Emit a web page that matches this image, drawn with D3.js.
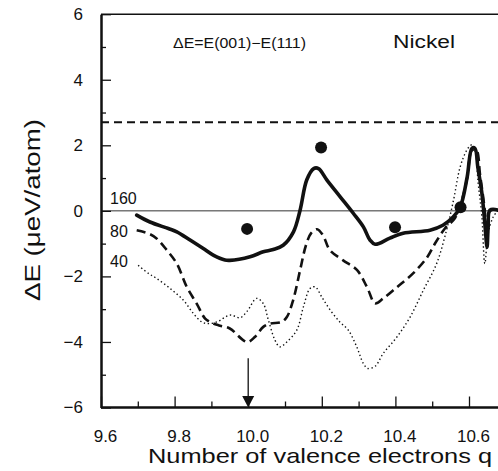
<!DOCTYPE html>
<html>
<head>
<meta charset="utf-8">
<script src="https://cdn.jsdelivr.net/npm/d3@7"></script>
<style>
  body { margin: 0; background: #fff; }
  text { font-family: "Liberation Sans", Arial, sans-serif; fill: #111; }
</style>
</head>
<body>
<div id="chart"></div>
<script>
// curve N=160 (solid)
var q160 = [9.697, 9.733, 9.783, 9.806, 9.842, 9.878, 9.905, 9.937, 9.95, 10.005, 10.041, 10.068, 10.095, 10.123, 10.141, 10.159, 10.178, 10.191, 10.214, 10.25, 10.286, 10.313, 10.331, 10.345, 10.385, 10.421, 10.494, 10.529, 10.557, 10.576, 10.595, 10.608, 10.616, 10.624, 10.635, 10.643, 10.649, 10.652, 10.657, 10.68];
var e160 = [-0.13, -0.34, -0.54, -0.64, -0.89, -1.15, -1.35, -1.5, -1.51, -1.4, -1.25, -1.18, -1.05, -0.64, 0.02, 0.94, 1.29, 1.29, 0.94, 0.43, -0.08, -0.49, -0.89, -1.02, -0.83, -0.68, -0.59, -0.44, -0.19, 0.11, 1.03, 1.91, 1.91, 1.33, 0.54, -0.38, -1.11, -0.5, 0.02, 0.02];

// curve N=80 (dashed)
var q80 = [9.697, 9.729, 9.751, 9.779, 9.806, 9.833, 9.86, 9.883, 9.896, 9.919, 9.95, 9.987, 10.0, 10.018, 10.041, 10.059, 10.091, 10.105, 10.122, 10.141, 10.157, 10.171, 10.187, 10.203, 10.222, 10.258, 10.296, 10.323, 10.345, 10.367, 10.404, 10.448, 10.486, 10.508, 10.535, 10.562, 10.58, 10.595, 10.608, 10.62, 10.63, 10.643, 10.649, 10.657, 10.68];
var e80 = [-0.59, -0.69, -0.84, -1.2, -1.61, -2.32, -2.83, -3.29, -3.39, -3.49, -3.59, -3.95, -4.0, -3.85, -3.54, -3.44, -3.39, -3.24, -2.73, -1.81, -1.05, -0.68, -0.56, -0.74, -1.2, -1.51, -1.81, -2.33, -2.82, -2.67, -2.33, -1.91, -1.42, -0.99, -0.53, -0.22, 0.3, 1.0, 1.85, 1.85, 1.1, 0.0, -0.9, 0.0, 0.0];

// curve N=40 (dotted)
var q40 = [9.701, 9.729, 9.751, 9.788, 9.824, 9.851, 9.874, 9.892, 9.915, 9.951, 9.978, 9.996, 10.023, 10.041, 10.055, 10.073, 10.086, 10.105, 10.132, 10.15, 10.168, 10.182, 10.2, 10.223, 10.249, 10.272, 10.295, 10.313, 10.325, 10.345, 10.367, 10.404, 10.44, 10.476, 10.512, 10.539, 10.558, 10.576, 10.594, 10.607, 10.616, 10.625, 10.635, 10.643, 10.652, 10.666, 10.68];
var e40 = [-1.66, -1.91, -2.06, -2.37, -2.73, -3.13, -3.39, -3.44, -3.39, -3.18, -3.26, -3.08, -2.67, -2.83, -3.34, -3.95, -4.15, -4.0, -3.64, -2.93, -2.37, -2.32, -2.63, -3.03, -3.39, -3.64, -4.15, -4.66, -4.81, -4.74, -4.35, -3.85, -3.24, -2.42, -1.61, -0.59, 0.33, 1.34, 1.85, 2.01, 1.85, 0.84, -0.18, -1.61, -0.69, -0.18, 0.02];

// measured points
var dotQ = [9.997, 10.198, 10.399, 10.577];
var dotE = [-0.55, 1.93, -0.5, 0.11];

var refLevel = 2.7;      // horizontal dashed line
var arrowQ = 10.0;       // arrow position

var yMajor = [-6, -4, -2, 0, 2, 4, 6];
var yMinor = [-5, -3, -1, 1, 3, 5];
var xMajor = [9.6, 9.8, 10.0, 10.2, 10.4, 10.6];
var xMinor = [9.7, 9.9, 10.1, 10.3, 10.5];

var curveLabels = ["160", "80", "40"];
var curveLabelE = [0.2, -0.8, -1.7];

var W = 498, H = 471;
var x = d3.scaleLinear().domain([9.6, 10.7]).range([101, 101 + 1.1 * 368]);
var y = d3.scaleLinear().domain([-6, 6]).range([407.5, 14.2]);

var svg = d3.select("#chart").append("svg")
    .attr("width", W).attr("height", H);

var zip = function(qs, es) {
  return qs.map(function(q, i) { return [q, es[i]]; });
};

// frame: top border and zero line
svg.append("line").attr("x1", x(9.6)).attr("x2", W + 5)
    .attr("y1", y(6)).attr("y2", y(6))
    .attr("stroke", "#111").attr("stroke-width", 1.6);
svg.append("line").attr("x1", x(9.6)).attr("x2", W + 5)
    .attr("y1", y(0)).attr("y2", y(0))
    .attr("stroke", "#333").attr("stroke-width", 1);

// left axis
var gy = svg.append("g").attr("transform", "translate(" + x(9.6) + ",0)");
gy.call(d3.axisLeft(y).tickValues(yMajor).tickSizeInner(-10).tickSizeOuter(0)
    .tickPadding(18).tickFormat(d3.format("d")));
gy.append("g").call(d3.axisLeft(y).tickValues(yMinor).tickSizeInner(-5)
    .tickSizeOuter(0).tickFormat(""));
gy.selectAll(".domain").attr("stroke", "#111").attr("stroke-width", 2);
gy.selectAll(".tick line").attr("stroke", "#111").attr("stroke-width", 1.3);
gy.selectAll(".tick text").attr("font-size", 17)
    .style("font-family", "Liberation Sans, Arial, sans-serif").attr("fill", "#111");

// bottom axis
var gx = svg.append("g").attr("transform", "translate(0," + y(-6) + ")");
gx.call(d3.axisBottom(x).tickValues(xMajor).tickSizeInner(-11).tickSizeOuter(0)
    .tickPadding(22).tickFormat(d3.format(".1f")));
gx.append("g").call(d3.axisBottom(x).tickValues(xMinor).tickSizeInner(-6)
    .tickSizeOuter(0).tickFormat(""));
gx.selectAll(".domain").attr("stroke", "#111").attr("stroke-width", 2)
    .attr("d", "M" + x(9.6) + ",0H" + (W + 5));
gx.selectAll(".tick line").attr("stroke", "#111").attr("stroke-width", 1.3);
gx.selectAll(".tick text").attr("font-size", 17).attr("dx", 4)
    .style("font-family", "Liberation Sans, Arial, sans-serif").attr("fill", "#111");

// horizontal reference line
svg.append("line").attr("x1", x(9.6)).attr("x2", W + 5)
    .attr("y1", y(refLevel)).attr("y2", y(refLevel))
    .attr("stroke", "#111").attr("stroke-width", 2)
    .attr("stroke-dasharray", "8,5");

// curves
var line = d3.line()
    .x(function(d) { return x(d[0]); })
    .y(function(d) { return y(d[1]); })
    .curve(d3.curveCatmullRom.alpha(0.5));

svg.append("path").datum(zip(q40, e40)).attr("d", line)
    .attr("fill", "none").attr("stroke", "#111").attr("stroke-width", 1.4)
    .attr("stroke-dasharray", "1.4,2.6");
svg.append("path").datum(zip(q80, e80)).attr("d", line)
    .attr("fill", "none").attr("stroke", "#111").attr("stroke-width", 2.6)
    .attr("stroke-dasharray", "9,5");
svg.append("path").datum(zip(q160, e160)).attr("d", line)
    .attr("fill", "none").attr("stroke", "#111").attr("stroke-width", 3.6)
    .attr("stroke-linejoin", "round").attr("stroke-linecap", "round");

// data points
svg.selectAll("circle.pt").data(zip(dotQ, dotE)).enter().append("circle")
    .attr("class", "pt")
    .attr("cx", function(d) { return x(d[0]); })
    .attr("cy", function(d) { return y(d[1]); })
    .attr("r", 6).attr("fill", "#111");

// arrow at q = 10.0
svg.append("line").attr("x1", x(arrowQ)).attr("x2", x(arrowQ))
    .attr("y1", y(-4.5)).attr("y2", y(-5.7))
    .attr("stroke", "#111").attr("stroke-width", 1.3);
svg.append("path")
    .attr("d", "M" + (x(arrowQ) - 6) + "," + y(-5.65) + "L" + (x(arrowQ) + 6) + "," + y(-5.65) +
        "L" + x(arrowQ) + "," + y(-6) + "Z")
    .attr("fill", "#111");

// curve labels
svg.selectAll("text.clab").data(curveLabels).enter().append("text")
    .attr("class", "clab")
    .attr("x", 110)
    .attr("y", function(d, i) { return y(curveLabelE[i]); })
    .attr("font-size", 16)
    .text(function(d) { return d; });

// titles
svg.append("text").attr("x", 173).attr("y", 48).attr("font-size", 14)
    .attr("textLength", 133).attr("lengthAdjust", "spacingAndGlyphs")
    .text("ΔE=E(001)−E(111)");
svg.append("text").attr("x", 393).attr("y", 48).attr("font-size", 18)
    .attr("textLength", 62).attr("lengthAdjust", "spacingAndGlyphs")
    .text("Nickel");

svg.append("text").attr("x", 148).attr("y", 463).attr("font-size", 21)
    .attr("textLength", 344).attr("lengthAdjust", "spacingAndGlyphs")
    .text("Number of valence electrons q");

svg.append("text")
    .attr("transform", "translate(40,210) rotate(-90)")
    .attr("text-anchor", "middle").attr("font-size", 22)
    .attr("textLength", 182).attr("lengthAdjust", "spacingAndGlyphs")
    .text("ΔE (μeV/atom)");
</script>
</body>
</html>
